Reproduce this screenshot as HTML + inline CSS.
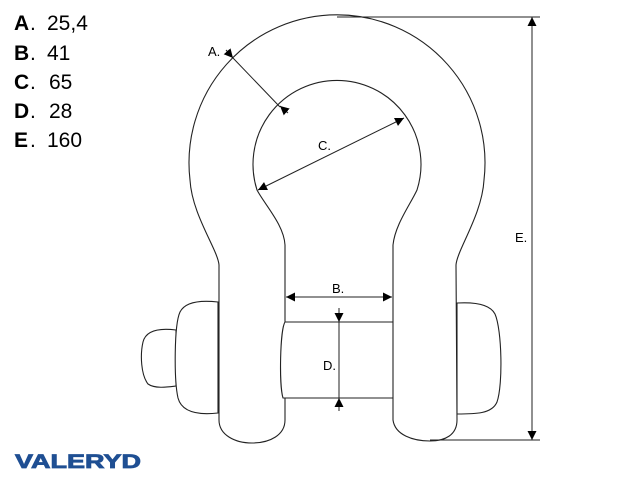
<!DOCTYPE html>
<html><head><meta charset="utf-8"><style>
html,body{margin:0;padding:0;background:#fff;width:640px;height:480px;overflow:hidden}
</style></head><body>
<svg width="640" height="480" viewBox="0 0 640 480" xmlns="http://www.w3.org/2000/svg">
<defs>
<marker id="ar" viewBox="0 0 10 10" refX="10" refY="5" markerWidth="9" markerHeight="9" markerUnits="userSpaceOnUse" orient="auto-start-reverse">
<path d="M0,0 L10,5 L0,10 Z" fill="#000"/></marker>
</defs>
<g font-family="Liberation Sans, Arial, sans-serif" font-size="21" fill="#000">
<text x="14" y="30" font-weight="bold">A</text><text x="30" y="30">.</text><text x="47" y="30">25,4</text>
<text x="14" y="60" font-weight="bold">B</text><text x="30" y="60">.</text><text x="47" y="60">41</text>
<text x="14" y="89" font-weight="bold">C</text><text x="30" y="89">.</text><text x="49" y="89">65</text>
<text x="14" y="118" font-weight="bold">D</text><text x="30" y="118">.</text><text x="49" y="118">28</text>
<text x="14" y="147" font-weight="bold">E</text><text x="30" y="147">.</text><text x="47" y="147">160</text>
</g>
<text x="15" y="468" font-family="Liberation Sans, Arial, sans-serif" font-weight="bold" font-size="19" fill="#1f4f93" textLength="126" lengthAdjust="spacingAndGlyphs" stroke="#1f4f93" stroke-width="0.8">VALERYD</text>
<g fill="#fff" stroke="#222" stroke-width="1.1">
<!-- left pin end and nut -->
<path d="M176,330 C160,328 146,330 143,342 C140,355 141,375 148,384 C155,389 168,387 176,386 Z"/>
<path d="M218,302 C200,300 185,302 180,312 C174,325 174,380 178,398 C182,413 200,415 218,413 Z"/>
<!-- right nut -->
<path d="M457,303 C475,302 490,304 495,314 C502,330 503,385 497,402 C492,414 475,414 457,414 Z"/>
<!-- body -->
<path d="M219,420 L219,265 C218,250 192,215 190,180 A148,148 0 1 1 484,180 C482,215 457,250 456,265 L457,420 C457,435 445,441 430,441 C413,441 395,435 393,420 L393,245 C395,225 410,205 417,190 A84,84 0 1 0 257,190 C265,205 284,225 285,245 L285,420 C285,435 270,443 252,443 C235,443 219,435 219,420 Z"/>
</g>
<!-- pin -->
<path d="M392,322 L285,322 C280,330 279,385 283,398 L392,398 Z" fill="#fff"/>
<path d="M393,322 L285,322 C280,330 279,385 283,398 L393,398" fill="none" stroke="#222" stroke-width="1.1"/>
<g stroke="#222" stroke-width="1" fill="none">
<!-- E dimension -->
<line x1="337" y1="17" x2="540" y2="17"/>
<line x1="430" y1="440" x2="540" y2="440"/>
<line x1="532" y1="17" x2="532" y2="440" marker-start="url(#ar)" marker-end="url(#ar)"/>
<!-- B -->
<line x1="286" y1="297" x2="392" y2="297" marker-start="url(#ar)" marker-end="url(#ar)"/>
<!-- D -->
<line x1="339" y1="308" x2="339" y2="322" marker-end="url(#ar)"/>
<line x1="339" y1="322" x2="339" y2="398"/>
<line x1="339" y1="411" x2="339" y2="398" marker-end="url(#ar)"/>
<!-- A -->
<line x1="226" y1="50" x2="233" y2="58" marker-end="url(#ar)"/>
<line x1="233" y1="58" x2="280" y2="107"/>
<line x1="288" y1="113" x2="280" y2="106" marker-end="url(#ar)"/>
<!-- C -->
<line x1="258" y1="190" x2="404" y2="118" marker-start="url(#ar)" marker-end="url(#ar)"/>
</g>
<g font-family="Liberation Sans, Arial, sans-serif" font-size="13" fill="#000">
<text x="208" y="56">A.</text>
<text x="318" y="150">C.</text>
<text x="332" y="293">B.</text>
<text x="323" y="370">D.</text>
<text x="515" y="242">E.</text>
</g>
</svg>
</body></html>
